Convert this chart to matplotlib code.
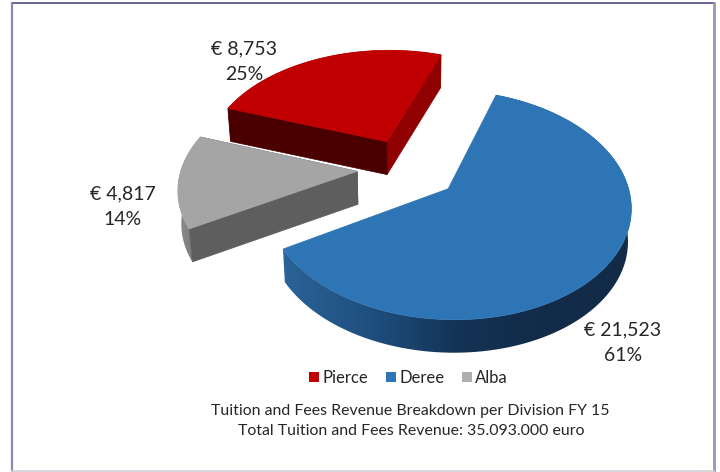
import numpy as np
import matplotlib
matplotlib.use("Agg")
import matplotlib.pyplot as plt
from matplotlib.colors import LinearSegmentedColormap
from matplotlib.patches import Patch, Polygon

# data
divisions = ["Pierce", "Deree", "Alba"]
revenue = [8753, 21523, 4817]
caption = ["Tuition and Fees Revenue Breakdown per Division FY 15",
           "Total Tuition and Fees Revenue: 35.093.000 euro"]

# styles
top_colors = ["#C00000", "#2E75B6", "#A5A5A5"]
legend_colors = ["#C00000", "#2E75B6", "#AEAEB2"]
edge_colors = ["#4A0000", None, "#5E5E5E"]
far_edge_colors = ["#900000", None, "#5E5E5E"]
# outer wall shading, left to right
arc_ramps = [["#900000", "#900000"],
             ["#2A6398", "#1F4F7E", "#143355", "#122B48", "#122B48"],
             ["#8C8C8C", "#707070"]]
slice_scale = [1.03, 0.985, 0.985]
label_pos = [(244, 62), (623, 343), (123, 207)]

# pie geometry, pixels of the 720x472 picture
X0, Y0 = 408, 168.5
R, RT = 178.5, 108.4
PERSP = 0.14
EXPLODE = 0.285
DEPTH = 33
BOTTOM_SCALE = 0.985
FIRST_ANGLE = 289.5

plt.rcParams["font.family"] = ["Lato", "DejaVu Sans"]
TEXT = "#262626"


def project(p, q, low=False):
    # in-plane pie coordinates to picture pixels with a bit of perspective
    w = 1 + PERSP * q
    x = R * p / w
    y = Y0 - RT * q / w
    if low:
        return X0 + x * BOTTOM_SCALE, y + DEPTH
    return X0 + x, y


def draw_slice(ax, start, sweep, scale, top_color, edge_color, far_edge_color, arc_colors):
    mid = np.radians(start + sweep / 2)
    ox, oy = EXPLODE * np.sin(mid), EXPLODE * np.cos(mid)
    th = np.radians(np.linspace(start, start + sweep, 200))
    p = ox + scale * np.sin(th)
    q = oy + scale * np.cos(th)

    tx, ty = project(p, q)
    bx, by = project(p, q, low=True)
    ax_, ay_ = project(ox, oy)
    bax, bay = project(ox, oy, low=True)

    # outer wall, a horizontal gradient clipped to the wall shape
    wall = Polygon(np.column_stack([np.r_[tx, bx[::-1]], np.r_[ty, by[::-1]]]), closed=True,
                   facecolor="none", edgecolor="none", transform=ax.transData)
    ax.add_patch(wall)
    cmap = LinearSegmentedColormap.from_list("wall", arc_colors)
    grad = np.linspace(0, 1, 256).reshape(1, -1)
    im = ax.imshow(grad, cmap=cmap, aspect="auto", interpolation="bilinear",
                   extent=[min(tx.min(), bx.min()), max(tx.max(), bx.max()),
                           max(ty.max(), by.max()), min(ty.min(), by.min())])
    im.set_clip_path(wall)

    # cut walls, only pierce and alba show them
    if edge_color is not None:
        ax.add_patch(Polygon([(ax_, ay_), (tx[-1], ty[-1]), (bx[-1], by[-1]), (bax, bay)],
                             closed=True, facecolor=far_edge_color, edgecolor=far_edge_color, lw=0.5))
        ax.add_patch(Polygon([(ax_, ay_), (tx[0], ty[0]), (bx[0], by[0]), (bax, bay)],
                             closed=True, facecolor=edge_color, edgecolor=edge_color, lw=0.5))

    top = np.column_stack([np.r_[ax_, tx], np.r_[ay_, ty]])
    ax.add_patch(Polygon(top, closed=True, facecolor=top_color, edgecolor=top_color, lw=0.5))


fig = plt.figure(figsize=(7.2, 4.72), dpi=100, facecolor="white")
ax = fig.add_axes([0, 0, 1, 1])
ax.axis("off")

# frame around the chart
ax.plot([12, 714], [3, 3], color="#4A4A80", lw=1.2)
ax.plot([12, 12], [3, 471], color="#8A88AE", lw=1.6)
ax.plot([714, 714], [3, 471], color="#9A94B8", lw=2)
ax.plot([12, 714], [471, 471], color="#D0D0D8", lw=1.2)

total = sum(revenue)
sweeps = [v / total * 360 for v in revenue]
starts = [FIRST_ANGLE + sum(sweeps[:i]) for i in range(len(sweeps))]

# back to front
for i in [2, 0, 1]:
    draw_slice(ax, starts[i], sweeps[i], slice_scale[i], top_colors[i], edge_colors[i],
               far_edge_colors[i], arc_ramps[i])

# imshow touches the limits, so set them afterwards
ax.set_xlim(0, 720)
ax.set_ylim(472, 0)

for v, (lx, ly) in zip(revenue, label_pos):
    ax.text(lx, ly, f"€ {v:,}\n{v / total:.0%}", ha="center", va="center",
            fontsize=14, color=TEXT, linespacing=1.6)

handles = [Patch(facecolor=c, edgecolor="none") for c in legend_colors]
ax.legend(handles, divisions, ncol=3, frameon=False, loc="center",
          bbox_to_anchor=(408.5 / 720, 1 - 378 / 472), fontsize=12,
          handlelength=0.6, handleheight=0.6, handletextpad=0.2, columnspacing=1.05,
          labelcolor=TEXT)

ax.text(410, 411, caption[0], ha="center", va="center", fontsize=11.45, color=TEXT)
ax.text(411, 431, caption[1], ha="center", va="center", fontsize=11.45, color=TEXT)

fig.savefig("out.png", dpi=100)
